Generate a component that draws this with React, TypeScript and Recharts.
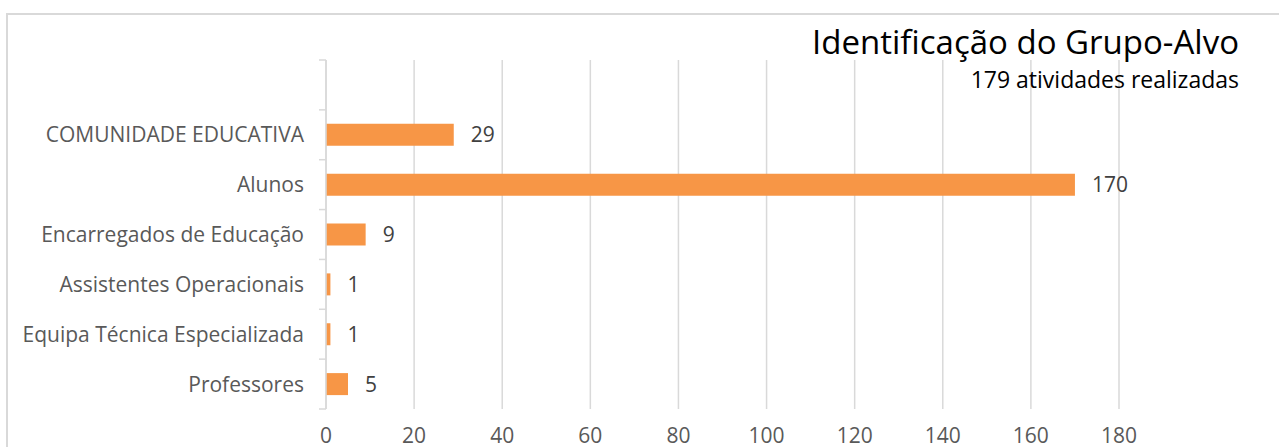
import React from "react";
import { BarChart, Bar, XAxis, YAxis, CartesianGrid, LabelList } from "recharts";

// ─── Data ─────────────────────────────────────────────────────────────────────

const categories = [
  "",
  "COMUNIDADE EDUCATIVA",
  "Alunos",
  "Encarregados de Educação",
  "Assistentes Operacionais",
  "Equipa Técnica Especializada",
  "Professores",
];
const values: (number | null)[] = [null, 29, 170, 9, 1, 1, 5];
const xTicks = [0, 20, 40, 60, 80, 100, 120, 140, 160, 180];

const TITLE = "Identificação do Grupo-Alvo";
const SUBTITLE = "179 atividades realizadas";

const data = categories.map((name, i) => ({ name, value: values[i] }));

const FONT = "'Open Sans', sans-serif";
const GRID = "#d9d9d9";

// ─── Category tick with Excel-style marks between categories ─────────────────

function CatTick(props: any) {
  const { x, y, payload, index, visibleTicksCount } = props;
  const half = payload?.offset ?? 24.9;
  const ax = x + 22;
  const last = index === (visibleTicksCount ?? categories.length) - 1;
  return (
    <g>
      <line x1={ax - 7} x2={ax} y1={y - half} y2={y - half} stroke={GRID} strokeWidth={1.5} />
      {last && (
        <line x1={ax - 7} x2={ax} y1={y + half} y2={y + half} stroke={GRID} strokeWidth={1.5} />
      )}
      <text
        x={x}
        y={y}
        dy="0.355em"
        textAnchor="end"
        fill="#595959"
        fontSize={21}
        fontFamily={FONT}
      >
        {payload.value}
      </text>
    </g>
  );
}

// ─── Component ────────────────────────────────────────────────────────────────

export default function App() {
  return (
    <div
      style={{
        position: "absolute",
        left: 0,
        top: 0,
        width: 1279,
        height: 447,
        overflow: "hidden",
        background: "#fff",
      }}
    >
      <div
        style={{
          position: "absolute",
          left: 6,
          top: 13,
          width: 1290,
          height: 600,
          border: `2px solid ${GRID}`,
          boxSizing: "border-box",
        }}
      />
      <div style={{ position: "absolute", left: 0, top: 0 }}>
        <BarChart
          width={1279}
          height={447}
          data={data}
          layout="vertical"
          margin={{ top: 60, right: 160, bottom: 0, left: 0 }}
          barCategoryGap="28%"
        >
          <CartesianGrid vertical horizontal={false} stroke={GRID} strokeWidth={1.5} />
          <XAxis
            type="number"
            domain={[0, 180]}
            ticks={xTicks}
            interval={0}
            height={38}
            axisLine={false}
            tickLine={false}
            tickSize={0}
            tickMargin={19}
            tick={{ fill: "#595959", fontSize: 21, fontFamily: FONT }}
          />
          <YAxis
            type="category"
            dataKey="name"
            width={326}
            interval={0}
            axisLine={{ stroke: GRID, strokeWidth: 1.5 }}
            tickLine={false}
            tickSize={0}
            tickMargin={22}
            tick={<CatTick />}
          />
          <Bar dataKey="value" fill="#f79646" isAnimationActive={false}>
            <LabelList
              dataKey="value"
              position="right"
              offset={17}
              fill="#404040"
              fontSize={21}
              fontFamily={FONT}
            />
          </Bar>
        </BarChart>
      </div>
      <svg
        width={1279}
        height={447}
        style={{ position: "absolute", left: 0, top: 0, pointerEvents: "none" }}
      >
        <text x={1239} y={54} textAnchor="end" fontSize={33} fontFamily={FONT} fill="#000">
          {TITLE}
        </text>
        <text x={1239} y={88} textAnchor="end" fontSize={23} fontFamily={FONT} fill="#000">
          {SUBTITLE}
        </text>
      </svg>
    </div>
  );
}
